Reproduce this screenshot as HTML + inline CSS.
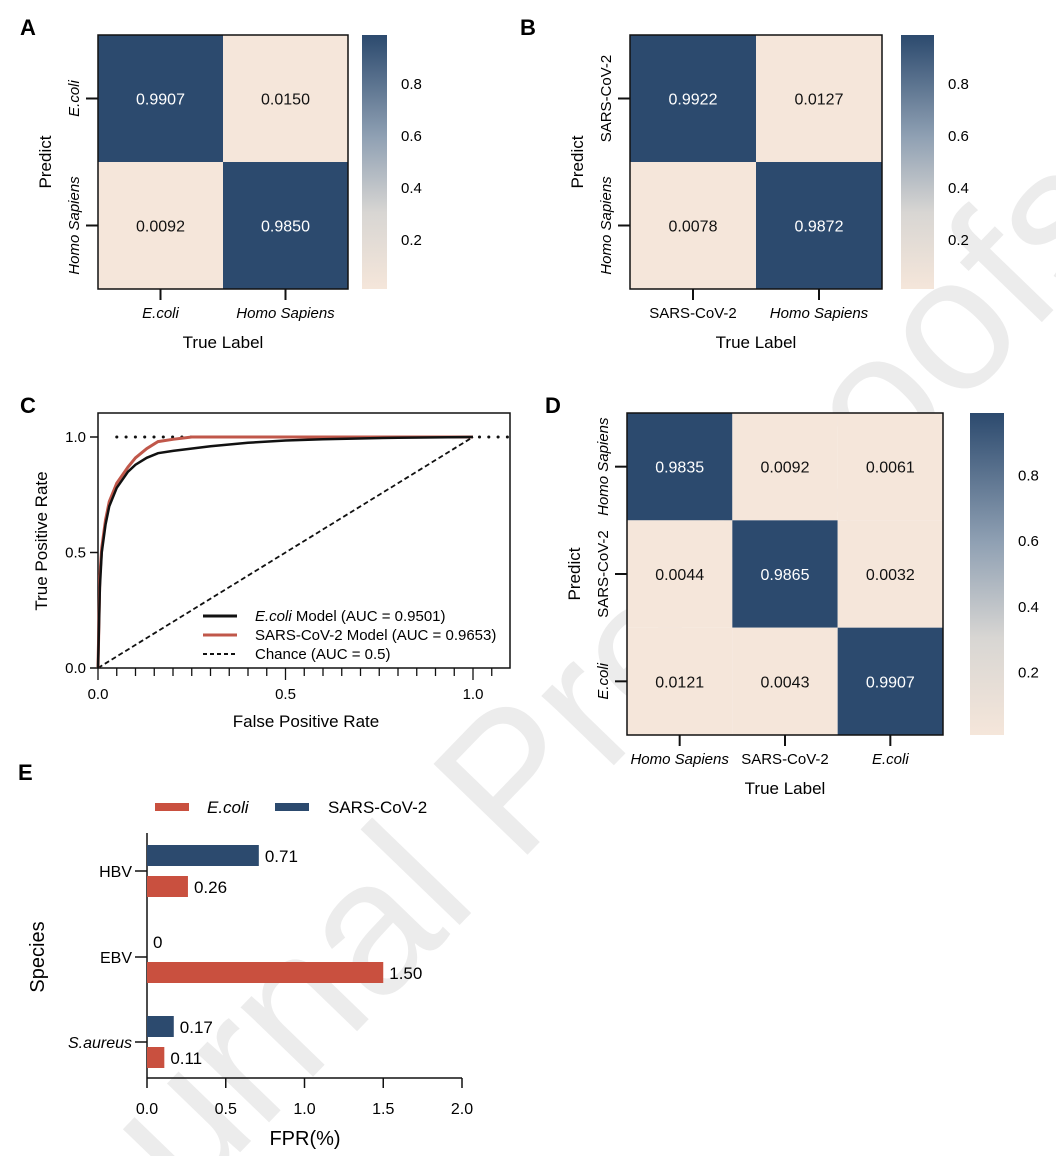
<!DOCTYPE html>
<html><head><meta charset="utf-8">
<style>
html,body{margin:0;padding:0;background:#fff;overflow:hidden;width:1056px;height:1156px;}
svg{display:block;font-family:"Liberation Sans",Arial,sans-serif;}
</style></head>
<body>
<svg id="fig" width="1056" height="1156" viewBox="0 0 1056 1156" xmlns="http://www.w3.org/2000/svg" overflow="hidden">
<defs>
<linearGradient id="cbar" x1="0" y1="1" x2="0" y2="0">
<stop offset="0" stop-color="#f5e6da"/>
<stop offset="0.3" stop-color="#d8d6d3"/>
<stop offset="0.6" stop-color="#8fa0b3"/>
<stop offset="1" stop-color="#2c4a6e"/>
</linearGradient>
</defs>
<text x="590" y="790" transform="rotate(-46 590 790)" text-anchor="middle" font-size="190" fill="#ececec">Journal Pre-proofs</text>
<g id="root"></g>
</svg>
<script>
const NS='http://www.w3.org/2000/svg';
const root=document.getElementById('root');
function el(tag,attrs,parent,text){const e=document.createElementNS(NS,tag);for(const k in attrs)e.setAttribute(k,attrs[k]);if(text!==undefined)e.textContent=text;(parent||root).appendChild(e);return e;}
const DARK='#2c4a6e',LIGHT='#f5e6da',RED='#c9503f';

// ---- data ----
const cmA=[[0.9907,0.0150],[0.0092,0.9850]];
const labelsA=['E.coli','Homo Sapiens'];
const cmB=[[0.9922,0.0127],[0.0078,0.9872]];
const labelsB=['SARS-CoV-2','Homo Sapiens'];
const cmD=[[0.9835,0.0092,0.0061],[0.0044,0.9865,0.0032],[0.0121,0.0043,0.9907]];
const labelsD=['Homo Sapiens','SARS-CoV-2','E.coli'];
const cbarTicks=[0.2,0.4,0.6,0.8];
const ecoliFpr=[0,0.005,0.01,0.02,0.03,0.05,0.08,0.1,0.13,0.16,0.2,0.3,0.4,0.5,0.6,0.8,1.0];
const ecoliTpr=[0,0.35,0.5,0.62,0.7,0.78,0.85,0.88,0.91,0.93,0.94,0.96,0.975,0.985,0.99,0.997,1.0];
const sarsFpr=[0,0.005,0.01,0.02,0.03,0.05,0.08,0.1,0.13,0.16,0.2,0.25,0.3,0.5,1.0];
const sarsTpr=[0,0.4,0.52,0.64,0.72,0.8,0.87,0.91,0.95,0.98,0.99,1.0,1.0,1.0,1.0];
const rocTicks=[0,0.5,1.0];
const species=['HBV','EBV','S.aureus'];
const sarsFPR=[0.71,0,0.17];
const ecoliFPR=[0.26,1.50,0.11];
const fprTicks=[0,0.5,1.0,1.5,2.0];

function isItal(l){return l==='E.coli'||l==='Homo Sapiens'||l==='S.aureus';}

function heatmap(cm,labels,x0,y0,w,h,cb,letter,lx,ly){
  const g=el('g',{});
  
  
  const t=el('text',{x:lx,y:ly,'font-size':22,'font-weight':'bold'},g,letter);
  
  
  const n=cm.length,cw=w/n,ch=h/n;
  for(let r=0;r<n;r++)for(let c=0;c<n;c++){
    const v=cm[r][c];
    const rc=el('rect',{x:x0+c*cw,y:y0+r*ch,width:cw,height:ch,fill:v>0.5?DARK:LIGHT},g);
    
    
    const tx=el('text',{x:x0+c*cw+cw/2,y:y0+r*ch+ch/2+6,'text-anchor':'middle','font-size':16,fill:v>0.5?'#fff':'#111'},g,v.toFixed(4));
    
    
  }
  el('rect',{x:x0,y:y0,width:w,height:h,fill:'none',stroke:'#111','stroke-width':1.5},g);
  for(let i=0;i<n;i++){
    const cx=x0+i*cw+cw/2,cy=y0+i*ch+ch/2;
    el('line',{x1:cx,y1:y0+h,x2:cx,y2:y0+h+11,stroke:'#111','stroke-width':2},g);
    const xl=el('text',{x:cx,y:y0+h+29,'text-anchor':'middle','font-size':15,'font-style':isItal(labels[i])?'italic':'normal'},g,labels[i]);
    
    
    el('line',{x1:x0-12,y1:cy,x2:x0,y2:cy,stroke:'#111','stroke-width':2},g);
    const yl=el('text',{x:x0-19,y:cy,'text-anchor':'middle','font-size':15,'font-style':isItal(labels[i])?'italic':'normal',transform:`rotate(-90 ${x0-19} ${cy})`},g,labels[i]);
    
    
  }
  const xt=el('text',{x:x0+w/2,y:y0+h+59,'text-anchor':'middle','font-size':17},g,'True Label');
  
  
  const yt=el('text',{x:x0-47,y:y0+h/2,'text-anchor':'middle','font-size':17,transform:`rotate(-90 ${x0-47} ${y0+h/2})`},g,'Predict');
  
  
  const cr=el('rect',{x:cb[0],y:y0,width:cb[1],height:h,fill:'url(#cbar)'},g);
  
  
  cbarTicks.forEach(v=>{
    const y=y0+h+3-(h+6)*v;
    const tt=el('text',{x:cb[0]+cb[1]+14,y:y+5,'font-size':15},g,v.toFixed(1));
    
    
  });
}
heatmap(cmA,labelsA,98,35,250,254,[362,25],'A',20,35);
heatmap(cmB,labelsB,630,35,252,254,[901,33],'B',520,35);
heatmap(cmD,labelsD,627,413,316,322,[970,34],'D',545,413);

// ---- ROC ----
(function(){
  const g=el('g',{});
  
  
  const X=v=>98+v*375, Y=v=>668-v*231;
  const lc=el('text',{x:20,y:413,'font-size':22,'font-weight':'bold'},g,'C');
  
  
  el('rect',{x:98,y:413,width:412,height:255,fill:'none',stroke:'#111','stroke-width':1.5},g);
  for(let k=0;k<=22;k++){const v=k*0.05;const x=X(v);if(x>510)break;el('line',{x1:x,y1:668,x2:x,y2:(k%10===0)?680:676,stroke:'#111','stroke-width':1.3},g);}
  rocTicks.forEach(v=>{
    const tx=el('text',{x:X(v),y:699,'text-anchor':'middle','font-size':15},g,v.toFixed(1));
    
    el('line',{x1:90,y1:Y(v),x2:98,y2:Y(v),stroke:'#111','stroke-width':1.5},g);
    const ty=el('text',{x:86,y:Y(v)+5,'text-anchor':'end','font-size':15},g,v.toFixed(1));
    
  });
  el('line',{x1:X(0.05),y1:Y(1),x2:508,y2:Y(1),stroke:'#111','stroke-width':3,'stroke-dasharray':'0.1 9.2','stroke-linecap':'round'},g);
  const ch=el('line',{x1:X(0),y1:Y(0),x2:X(1),y2:Y(1),stroke:'#111','stroke-width':1.8,'stroke-dasharray':'5 3'},g);
  
  const pts=(xs,ys)=>xs.map((x,i)=>X(x)+','+Y(ys[i])).join(' ');
  const s=el('polyline',{points:pts(sarsFpr,sarsTpr),fill:'none',stroke:'#c0574a','stroke-width':3},g);
  
  const e=el('polyline',{points:pts(ecoliFpr,ecoliTpr),fill:'none',stroke:'#111','stroke-width':2.5},g);
  
  const leg=[['#111','E.coli',' Model (AUC = 0.9501)',null],['#c0574a','',"SARS-CoV-2 Model (AUC = 0.9653)",null],['#111','','Chance (AUC = 0.5)','4 3']];
  leg.forEach((l,i)=>{
    const y=616+i*19;
    const ln=el('line',{x1:203,y1:y,x2:237,y2:y,stroke:l[0],'stroke-width':l[3]?2:3,'stroke-dasharray':l[3]||'none'},g);
    
    const t=el('text',{x:255,y:y+5,'font-size':15},g);
    
    if(l[1]){el('tspan',{'font-style':'italic'},t,l[1]);}
    el('tspan',{},t,l[2]);
  });
  const xt=el('text',{x:306,y:727,'text-anchor':'middle','font-size':17},g,'False Positive Rate');
  
  const yt=el('text',{x:47,y:541,'text-anchor':'middle','font-size':17,transform:'rotate(-90 47 541)'},g,'True Positive Rate');
  
})();

// ---- Bar chart E ----
(function(){
  const g=el('g',{});
  
  
  const X=v=>147+v*157.5;
  const cy=[871,957,1042];
  const le=el('text',{x:18,y:780,'font-size':22,'font-weight':'bold'},g,'E');
  
  el('line',{x1:147,y1:833,x2:147,y2:1078,stroke:'#111','stroke-width':1.5},g);
  el('line',{x1:147,y1:1078,x2:462,y2:1078,stroke:'#111','stroke-width':1.5},g);
  fprTicks.forEach(v=>{
    el('line',{x1:X(v),y1:1078,x2:X(v),y2:1088,stroke:'#111','stroke-width':1.5},g);
    const t=el('text',{x:X(v),y:1114,'text-anchor':'middle','font-size':16},g,v.toFixed(1));
    
  });
  species.forEach((s,i)=>{
    el('line',{x1:135,y1:cy[i],x2:147,y2:cy[i],stroke:'#111','stroke-width':1.5},g);
    const t=el('text',{x:132,y:cy[i]+6,'text-anchor':'end','font-size':16,'font-style':isItal(s)?'italic':'normal'},g,s);
    
    const b1=el('rect',{x:147,y:cy[i]-26,width:X(sarsFPR[i])-147,height:21,fill:DARK},g);
    
    const b2=el('rect',{x:147,y:cy[i]+5,width:X(ecoliFPR[i])-147,height:21,fill:RED},g);
    
    const l1=el('text',{x:X(sarsFPR[i])+6,y:cy[i]-9,'font-size':17},g,sarsFPR[i]===0?'0':sarsFPR[i].toFixed(2));
    
    const l2=el('text',{x:X(ecoliFPR[i])+6,y:cy[i]+22,'font-size':17},g,ecoliFPR[i].toFixed(2));
    
  });
  const r1=el('rect',{x:155,y:803,width:34,height:8,fill:RED},g);
  
  const t1=el('text',{x:207,y:813,'font-size':17,'font-style':'italic'},g,'E.coli');
  
  const r2=el('rect',{x:275,y:803,width:34,height:8,fill:DARK},g);
  
  const t2=el('text',{x:328,y:813,'font-size':17},g,'SARS-CoV-2');
  
  const xt=el('text',{x:305,y:1145,'text-anchor':'middle','font-size':20},g,'FPR(%)');
  
  const yt=el('text',{x:44,y:957,'text-anchor':'middle','font-size':20,transform:'rotate(-90 44 957)'},g,'Species');
  
})();
</script>
</body></html>
